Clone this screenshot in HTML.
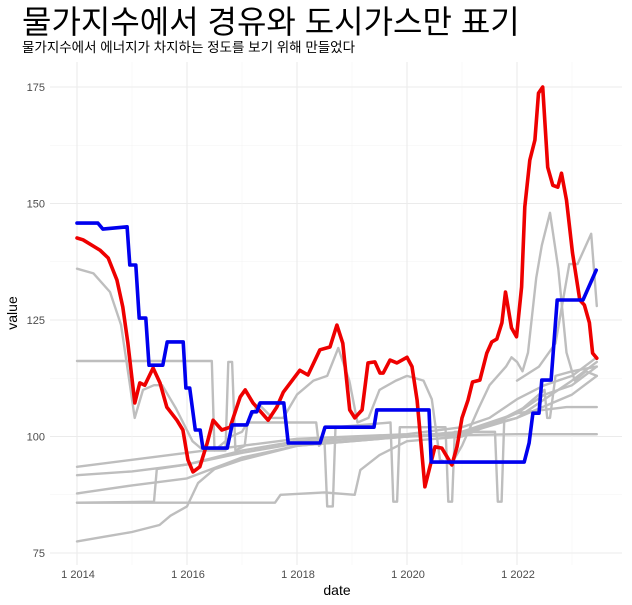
<!DOCTYPE html>
<html><head><meta charset="utf-8">
<style>
html,body{margin:0;padding:0;background:#fff;}
svg{display:block;}
text{font-family:"Liberation Sans","Noto Sans CJK KR",sans-serif;}
</style></head>
<body>
<svg id="chart" width="632" height="605" viewBox="0 0 632 605" xmlns="http://www.w3.org/2000/svg">
<text x="22" y="33" font-size="32" fill="#000">물가지수에서 경유와 도시가스만 표기</text>
<text x="22" y="52" font-size="13.5" fill="#000">물가지수에서 에너지가 차지하는 정도를 보기 위해 만들었다</text>
<g id="grid"></g>
<g id="gray"></g>
<g id="main"></g>
<g id="axes"></g>
<text x="337" y="595" font-size="14" text-anchor="middle" fill="#000">date</text>
<text transform="translate(17,313) rotate(-90)" font-size="14" text-anchor="middle" fill="#000">value</text>
</svg>
<script>
const yTicks=[75,100,125,150,175];
const xTickYears=[2014,2016,2018,2020,2022];
const xTickLabels=["1 2014","1 2016","1 2018","1 2020","1 2022"];
// months since Jan 2014
const redMonths=[0,1.3,5,6.8,8.7,10,11.1,12.6,13.7,14.8,16.6,18.1,19.6,21.8,23.1,24.2,25.3,26.8,28.4,29.7,31.6,33.4,35.6,36.7,38.4,41.7,43.6,45,48.6,50.4,53,55.2,56.7,58,59.5,60.6,62.2,63.5,65,66.1,66.8,68.3,69.8,72,73.1,74.2,75.9,77,78.1,79.6,81.8,82.9,84,85.3,86.3,87.9,89.4,90.5,91.6,92.7,93.5,94.8,95.9,97,97.7,98.8,99.9,100.7,101.6,102.7,103.8,104.9,105.7,106.8,108.1,109.7,110.7,111.8,112.5,113.4];
const redValues=[142.6,142.2,140,138.3,133.6,127.8,120,107.2,111.5,111,114.7,111.5,106.3,103.5,101.4,95,92.4,93.5,98.6,103.5,101.4,102,108.5,110,107.2,103.5,106.3,109.5,114.2,113.2,118.6,119.2,123.9,120,105.7,104,105.7,115.8,116,113.6,113.6,116.4,115.8,117,115,107.8,89.2,93.5,97.8,97.5,93.9,97.8,104,107.8,111.7,112.1,117.9,120.3,120.9,124.4,131,123.3,121.4,132.1,149.3,159.3,163.6,173.7,175,157.8,153.9,153.5,156.5,150.7,139.4,129.3,128.2,124.4,117.9,116.8];
const blueDates=[2014.0,2014.38,2014.47,2014.91,2014.96,2015.07,2015.13,2015.25,2015.31,2015.56,2015.64,2015.93,2015.98,2016.05,2016.15,2016.24,2016.29,2016.73,2016.82,2017.09,2017.18,2017.27,2017.33,2017.76,2017.84,2018.42,2018.51,2019.4,2019.45,2020.4,2020.44,2022.13,2022.22,2022.29,2022.4,2022.45,2022.62,2022.73,2023.2,2023.44];
const blueValues=[145.8,145.8,144.5,145,136.8,136.8,125.4,125.4,115.3,115.3,120.3,120.3,110.4,110.4,101.4,101.4,97.5,97.5,102.5,102.5,105.3,105.3,107.2,107.2,98.6,98.6,102,102,105.7,105.7,94.5,94.5,98.6,105,105,112.1,112.1,129.3,129.3,135.7];
const grayDates=[
[2014,2014.3,2014.6,2014.8,2014.95,2015.05,2015.2,2015.4,2015.55,2015.8,2016.1,2016.3,2016.5,2016.8,2017.0,2017.3,2017.55,2017.75,2018.0,2018.3,2018.55,2018.75,2018.95,2019.1,2019.3,2019.5,2019.8,2020.0,2020.3,2020.45,2020.6,2020.8,2021.0,2021.3,2021.5,2021.8,2021.9,2022.0,2022.1,2022.2,2022.35,2022.45,2022.6,2022.75,2022.9,2023.05,2023.25,2023.45],
[2014,2016.45,2016.5,2016.7,2016.75,2016.82,2016.88,2017.05,2017.1,2018.35,2018.4,2018.5,2018.55,2018.65,2018.7,2019.7,2019.75,2019.82,2019.87,2020.7,2020.75,2020.82,2020.87,2021.6,2021.65,2021.72,2021.77,2022.1,2022.3,2022.5,2022.55,2022.6,2022.7,2023.0,2023.45],
[2014,2015.4,2015.45,2016,2017,2018,2019,2020,2021,2022,2023.45],
[2014,2017.6,2017.7,2018.5,2019.05,2019.15,2019.5,2020,2021,2022,2022.9,2023.45],
[2014,2014.5,2015,2015.5,2015.7,2016.0,2016.2,2016.5,2017,2018,2019,2020,2021,2022,2022.5,2023,2023.45],
[2014,2015,2016,2017,2018,2019,2020,2021,2021.5,2022,2022.5,2023,2023.45],
[2014,2015,2016,2017,2018,2019,2020,2021,2022,2022.5,2023,2023.45],
[2014,2015,2016,2017,2018,2019,2020,2021,2022,2023,2023.45],
[2022.0,2022.4,2022.7,2022.95,2023.1,2023.35,2023.45]
];
const grayValues=[
[136,135,131,124,112,104,110,111,111,106,99,97,97,100,101,107,104,104,109,112,113,119,112,103,104,110,112,113,112,108,95,94,98,106,111,115,117,116,114,118,134,141,148,136,118,112,114,113],
[116.2,116.2,97,97,116,116,97,98,103,103,98,99,85,85,102,103,86,86,102,102,86,86,101,101,86,86,104,106,108,110,104,104,113,114,115],
[85.8,86,93,94,97,99,99.5,100,100.3,100.5,100.5],
[85.8,85.8,87.5,88,87.5,92.8,96,99,100,105,106.3,106.3],
[77.5,78.5,79.5,81,83,85,90,93,95,98,99,100,101,104,108,112,116],
[93.5,95,96.5,98,99.5,100,100.5,102,104,108,111,113,117],
[91.7,92.5,94,96.5,98.5,99.5,100,101,105,109,111,115],
[87.8,89.5,91,95.5,98,99,100,100.5,104,109,113],
[112,115,120,137,137,143.5,128]
];
const NS="http://www.w3.org/2000/svg";
const X=d=>77+(d-2014)*55;
const XM=m=>77+m*55/12;
const Y=v=>553-(v-75)*4.66;
const grid=document.getElementById('grid');
function ln(g,x1,y1,x2,y2,c,w){const l=document.createElementNS(NS,'line');l.setAttribute('x1',x1);l.setAttribute('y1',y1);l.setAttribute('x2',x2);l.setAttribute('y2',y2);l.setAttribute('stroke',c);l.setAttribute('stroke-width',w);g.appendChild(l);return l;}
for(let v=75;v<=175;v+=12.5){const l=ln(grid,50,Y(v),622,Y(v),v%25===0?'#ebebeb':'#f3f3f3',v%25===0?1.1:0.6);

}
for(let yr=2014;yr<=2023;yr++){const l=ln(grid,X(yr),62,X(yr),565,yr%2===0?'#ebebeb':'#f3f3f3',yr%2===0?1.1:0.6);

}
const axes=document.getElementById('axes');
yTicks.forEach(v=>{const t=document.createElementNS(NS,'text');t.setAttribute('x',45);t.setAttribute('y',Y(v)+4);t.setAttribute('text-anchor','end');t.setAttribute('font-size','11');t.setAttribute('fill','#4d4d4d');t.textContent=v;


axes.appendChild(t);});
xTickYears.forEach((yr,i)=>{const t=document.createElementNS(NS,'text');t.setAttribute('x',X(yr)+1);t.setAttribute('y',578);t.setAttribute('text-anchor','middle');t.setAttribute('font-size','11');t.setAttribute('fill','#4d4d4d');t.textContent=xTickLabels[i];


axes.appendChild(t);});
function path(g,xs,vs,c,w){const p=document.createElementNS(NS,'path');p.setAttribute('d',xs.map((x,i)=>(i?'L':'M')+x.toFixed(1)+' '+Y(vs[i]).toFixed(1)).join(' '));p.setAttribute('fill','none');p.setAttribute('stroke',c);p.setAttribute('stroke-width',w);p.setAttribute('stroke-linejoin','round');p.setAttribute('stroke-linecap','round');g.appendChild(p);return p;}
const gray=document.getElementById('gray');
grayDates.forEach((ds,i)=>{const p=path(gray,ds.map(X),grayValues[i],'#bebebe',2.4);

});
const main=document.getElementById('main');
const r=path(main,redMonths.map(XM),redValues,'#ee0000',3.6);


const b=path(main,blueDates.map(X),blueValues,'#0000ee',3.6);


</script>
</body></html>
